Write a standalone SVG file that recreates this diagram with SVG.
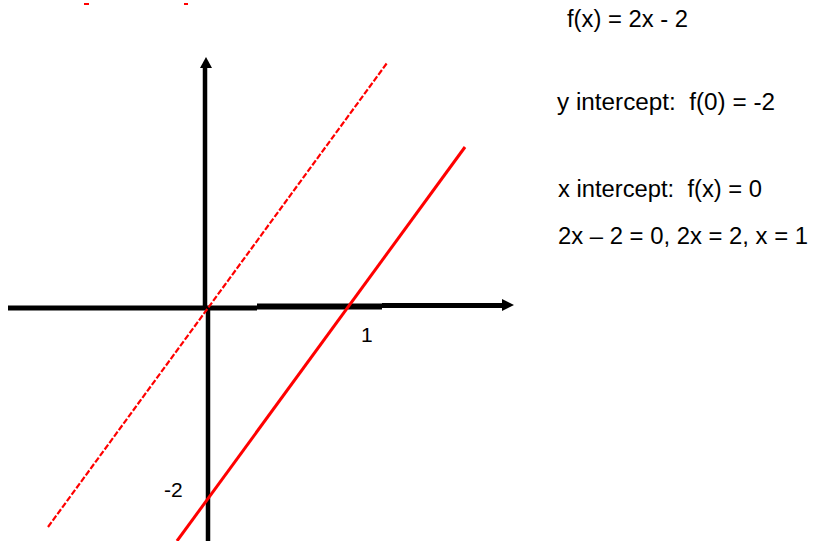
<svg xmlns="http://www.w3.org/2000/svg" width="813" height="541" viewBox="0 0 813 541">
<style>
text{font-family:"Liberation Sans",Arial,sans-serif;fill:#000;white-space:pre}
.t{font-size:23px}
.axis{stroke:#000;fill:none}
.red{stroke:#ff0000;fill:none}
</style>
<rect width="813" height="541" fill="#fff"/>
<g id="marks">
<rect x="84" y="3" width="5" height="2" fill="#ff0000"/>
<rect x="184" y="3" width="4" height="2" fill="#ff0000"/>
</g>
<g id="axes">
<line class="axis" x1="205" y1="68" x2="205" y2="309" stroke-width="4.5"/>
<line class="axis" x1="208" y1="309" x2="208" y2="541" stroke-width="4.5"/>
<polygon points="206,57 200,68 212,68" fill="#000"/>
<line class="axis" x1="8" y1="308" x2="257" y2="308" stroke-width="5"/>
<line class="axis" x1="257" y1="306.5" x2="382" y2="306.5" stroke-width="6"/>
<line class="axis" x1="382" y1="305.5" x2="503" y2="305.5" stroke-width="5"/>
<polygon points="514,305 502,299 502,311" fill="#000"/>
</g>
<g id="lines">
<line class="red" x1="48" y1="527" x2="387" y2="63" stroke-width="2.2" stroke-dasharray="6 2"/>
<line class="red" x1="177" y1="541" x2="465" y2="147" stroke-width="3"/>
</g>
<g id="labels">
<text x="361" y="342" font-size="21">1</text>
<text x="164" y="497" font-size="21">-2</text>
<text class="t" x="567" y="27" textLength="121" lengthAdjust="spacingAndGlyphs">f(x) = 2x - 2</text>
<text class="t" x="557" y="110" textLength="218" lengthAdjust="spacingAndGlyphs" xml:space="preserve">y intercept:  f(0) = -2</text>
<text class="t" x="558" y="197" textLength="204" lengthAdjust="spacingAndGlyphs" xml:space="preserve">x intercept:  f(x) = 0</text>
<text class="t" x="558" y="244" textLength="250" lengthAdjust="spacingAndGlyphs">2x – 2 = 0, 2x = 2, x = 1</text>
</g>
</svg>
